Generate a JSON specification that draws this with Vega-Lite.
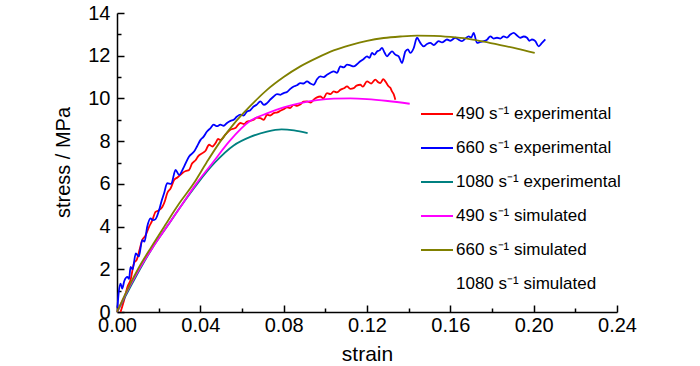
{
  "$schema": "https://vega.github.io/schema/vega-lite/v6.json",
  "autosize": "none",
  "padding": {"left": 117, "top": 13, "right": 83, "bottom": 55},
  "width": 500,
  "height": 299,
  "background": "white",
  "config": {"view": {"stroke": null}, "font": "Liberation Sans"},
  "data": {"values": [
    {"series": "490 s⁻¹ experimental", "strain": 0.0017, "stress": 0.0},
    {"series": "490 s⁻¹ experimental", "strain": 0.0034, "stress": 0.55},
    {"series": "490 s⁻¹ experimental", "strain": 0.005, "stress": 1.17},
    {"series": "490 s⁻¹ experimental", "strain": 0.0065, "stress": 1.5},
    {"series": "490 s⁻¹ experimental", "strain": 0.0082, "stress": 2.3},
    {"series": "490 s⁻¹ experimental", "strain": 0.0095, "stress": 2.45},
    {"series": "490 s⁻¹ experimental", "strain": 0.0108, "stress": 2.9},
    {"series": "490 s⁻¹ experimental", "strain": 0.0121, "stress": 3.37},
    {"series": "490 s⁻¹ experimental", "strain": 0.0135, "stress": 3.55},
    {"series": "490 s⁻¹ experimental", "strain": 0.0154, "stress": 3.99},
    {"series": "490 s⁻¹ experimental", "strain": 0.017, "stress": 4.3},
    {"series": "490 s⁻¹ experimental", "strain": 0.0185, "stress": 4.69},
    {"series": "490 s⁻¹ experimental", "strain": 0.02, "stress": 4.75},
    {"series": "490 s⁻¹ experimental", "strain": 0.0218, "stress": 4.93},
    {"series": "490 s⁻¹ experimental", "strain": 0.023, "stress": 5.2},
    {"series": "490 s⁻¹ experimental", "strain": 0.0241, "stress": 5.56},
    {"series": "490 s⁻¹ experimental", "strain": 0.0258, "stress": 5.8},
    {"series": "490 s⁻¹ experimental", "strain": 0.0274, "stress": 6.18},
    {"series": "490 s⁻¹ experimental", "strain": 0.029, "stress": 6.3},
    {"series": "490 s⁻¹ experimental", "strain": 0.0313, "stress": 6.5},
    {"series": "490 s⁻¹ experimental", "strain": 0.033, "stress": 6.6},
    {"series": "490 s⁻¹ experimental", "strain": 0.0346, "stress": 6.65},
    {"series": "490 s⁻¹ experimental", "strain": 0.036, "stress": 6.95},
    {"series": "490 s⁻¹ experimental", "strain": 0.0378, "stress": 7.12},
    {"series": "490 s⁻¹ experimental", "strain": 0.039, "stress": 7.3},
    {"series": "490 s⁻¹ experimental", "strain": 0.041, "stress": 7.44},
    {"series": "490 s⁻¹ experimental", "strain": 0.0425, "stress": 7.55},
    {"series": "490 s⁻¹ experimental", "strain": 0.0442, "stress": 7.83},
    {"series": "490 s⁻¹ experimental", "strain": 0.0458, "stress": 7.75},
    {"series": "490 s⁻¹ experimental", "strain": 0.0473, "stress": 7.91},
    {"series": "490 s⁻¹ experimental", "strain": 0.0485, "stress": 8.1},
    {"series": "490 s⁻¹ experimental", "strain": 0.0497, "stress": 8.06},
    {"series": "490 s⁻¹ experimental", "strain": 0.052, "stress": 8.3},
    {"series": "490 s⁻¹ experimental", "strain": 0.0544, "stress": 8.53},
    {"series": "490 s⁻¹ experimental", "strain": 0.0568, "stress": 8.61},
    {"series": "490 s⁻¹ experimental", "strain": 0.058, "stress": 8.75},
    {"series": "490 s⁻¹ experimental", "strain": 0.0592, "stress": 8.85},
    {"series": "490 s⁻¹ experimental", "strain": 0.061, "stress": 8.8},
    {"series": "490 s⁻¹ experimental", "strain": 0.0624, "stress": 8.92},
    {"series": "490 s⁻¹ experimental", "strain": 0.064, "stress": 8.95},
    {"series": "490 s⁻¹ experimental", "strain": 0.0656, "stress": 9.0},
    {"series": "490 s⁻¹ experimental", "strain": 0.067, "stress": 9.1},
    {"series": "490 s⁻¹ experimental", "strain": 0.0688, "stress": 9.08},
    {"series": "490 s⁻¹ experimental", "strain": 0.0705, "stress": 9.0},
    {"series": "490 s⁻¹ experimental", "strain": 0.072, "stress": 9.24},
    {"series": "490 s⁻¹ experimental", "strain": 0.0735, "stress": 9.2},
    {"series": "490 s⁻¹ experimental", "strain": 0.0752, "stress": 9.31},
    {"series": "490 s⁻¹ experimental", "strain": 0.077, "stress": 9.35},
    {"series": "490 s⁻¹ experimental", "strain": 0.0784, "stress": 9.42},
    {"series": "490 s⁻¹ experimental", "strain": 0.08, "stress": 9.5},
    {"series": "490 s⁻¹ experimental", "strain": 0.0816, "stress": 9.58},
    {"series": "490 s⁻¹ experimental", "strain": 0.083, "stress": 9.55},
    {"series": "490 s⁻¹ experimental", "strain": 0.0848, "stress": 9.7},
    {"series": "490 s⁻¹ experimental", "strain": 0.0865, "stress": 9.65},
    {"series": "490 s⁻¹ experimental", "strain": 0.088, "stress": 9.72},
    {"series": "490 s⁻¹ experimental", "strain": 0.0895, "stress": 9.85},
    {"series": "490 s⁻¹ experimental", "strain": 0.0912, "stress": 9.86},
    {"series": "490 s⁻¹ experimental", "strain": 0.093, "stress": 9.8},
    {"series": "490 s⁻¹ experimental", "strain": 0.0944, "stress": 9.94},
    {"series": "490 s⁻¹ experimental", "strain": 0.096, "stress": 10.05},
    {"series": "490 s⁻¹ experimental", "strain": 0.0976, "stress": 10.09},
    {"series": "490 s⁻¹ experimental", "strain": 0.099, "stress": 10.0},
    {"series": "490 s⁻¹ experimental", "strain": 0.1008, "stress": 10.25},
    {"series": "490 s⁻¹ experimental", "strain": 0.1025, "stress": 10.2},
    {"series": "490 s⁻¹ experimental", "strain": 0.104, "stress": 10.33},
    {"series": "490 s⁻¹ experimental", "strain": 0.1055, "stress": 10.28},
    {"series": "490 s⁻¹ experimental", "strain": 0.1072, "stress": 10.4},
    {"series": "490 s⁻¹ experimental", "strain": 0.109, "stress": 10.48},
    {"series": "490 s⁻¹ experimental", "strain": 0.1104, "stress": 10.56},
    {"series": "490 s⁻¹ experimental", "strain": 0.112, "stress": 10.45},
    {"series": "490 s⁻¹ experimental", "strain": 0.1136, "stress": 10.48},
    {"series": "490 s⁻¹ experimental", "strain": 0.115, "stress": 10.6},
    {"series": "490 s⁻¹ experimental", "strain": 0.1168, "stress": 10.64},
    {"series": "490 s⁻¹ experimental", "strain": 0.118, "stress": 10.55},
    {"series": "490 s⁻¹ experimental", "strain": 0.12, "stress": 10.8},
    {"series": "490 s⁻¹ experimental", "strain": 0.122, "stress": 10.7},
    {"series": "490 s⁻¹ experimental", "strain": 0.124, "stress": 10.88},
    {"series": "490 s⁻¹ experimental", "strain": 0.1255, "stress": 10.75},
    {"series": "490 s⁻¹ experimental", "strain": 0.1264, "stress": 10.72},
    {"series": "490 s⁻¹ experimental", "strain": 0.1278, "stress": 10.9},
    {"series": "490 s⁻¹ experimental", "strain": 0.1288, "stress": 10.8},
    {"series": "490 s⁻¹ experimental", "strain": 0.1304, "stress": 10.56},
    {"series": "490 s⁻¹ experimental", "strain": 0.1312, "stress": 10.5},
    {"series": "490 s⁻¹ experimental", "strain": 0.132, "stress": 10.33},
    {"series": "490 s⁻¹ experimental", "strain": 0.1328, "stress": 10.2},
    {"series": "490 s⁻¹ experimental", "strain": 0.1336, "stress": 9.94},
    {"series": "660 s⁻¹ experimental", "strain": 0.0002, "stress": 0.2},
    {"series": "660 s⁻¹ experimental", "strain": 0.0008, "stress": 0.9},
    {"series": "660 s⁻¹ experimental", "strain": 0.0017, "stress": 1.33},
    {"series": "660 s⁻¹ experimental", "strain": 0.0025, "stress": 1.1},
    {"series": "660 s⁻¹ experimental", "strain": 0.0035, "stress": 1.45},
    {"series": "660 s⁻¹ experimental", "strain": 0.005, "stress": 1.64},
    {"series": "660 s⁻¹ experimental", "strain": 0.0058, "stress": 1.55},
    {"series": "660 s⁻¹ experimental", "strain": 0.0065, "stress": 2.11},
    {"series": "660 s⁻¹ experimental", "strain": 0.0075, "stress": 2.0},
    {"series": "660 s⁻¹ experimental", "strain": 0.009, "stress": 2.74},
    {"series": "660 s⁻¹ experimental", "strain": 0.0105, "stress": 2.6},
    {"series": "660 s⁻¹ experimental", "strain": 0.0121, "stress": 3.37},
    {"series": "660 s⁻¹ experimental", "strain": 0.0132, "stress": 3.3},
    {"series": "660 s⁻¹ experimental", "strain": 0.0145, "stress": 3.99},
    {"series": "660 s⁻¹ experimental", "strain": 0.0161, "stress": 4.38},
    {"series": "660 s⁻¹ experimental", "strain": 0.0172, "stress": 4.3},
    {"series": "660 s⁻¹ experimental", "strain": 0.0185, "stress": 4.35},
    {"series": "660 s⁻¹ experimental", "strain": 0.0202, "stress": 4.77},
    {"series": "660 s⁻¹ experimental", "strain": 0.0214, "stress": 5.2},
    {"series": "660 s⁻¹ experimental", "strain": 0.0226, "stress": 5.56},
    {"series": "660 s⁻¹ experimental", "strain": 0.0241, "stress": 6.03},
    {"series": "660 s⁻¹ experimental", "strain": 0.026, "stress": 6.0},
    {"series": "660 s⁻¹ experimental", "strain": 0.0281, "stress": 6.65},
    {"series": "660 s⁻¹ experimental", "strain": 0.0298, "stress": 6.42},
    {"series": "660 s⁻¹ experimental", "strain": 0.0322, "stress": 6.81},
    {"series": "660 s⁻¹ experimental", "strain": 0.0346, "stress": 7.28},
    {"series": "660 s⁻¹ experimental", "strain": 0.037, "stress": 7.51},
    {"series": "660 s⁻¹ experimental", "strain": 0.0384, "stress": 7.75},
    {"series": "660 s⁻¹ experimental", "strain": 0.0401, "stress": 8.06},
    {"series": "660 s⁻¹ experimental", "strain": 0.0415, "stress": 8.2},
    {"series": "660 s⁻¹ experimental", "strain": 0.0432, "stress": 8.45},
    {"series": "660 s⁻¹ experimental", "strain": 0.0448, "stress": 8.6},
    {"series": "660 s⁻¹ experimental", "strain": 0.0464, "stress": 8.77},
    {"series": "660 s⁻¹ experimental", "strain": 0.048, "stress": 8.7},
    {"series": "660 s⁻¹ experimental", "strain": 0.0496, "stress": 8.77},
    {"series": "660 s⁻¹ experimental", "strain": 0.0512, "stress": 8.72},
    {"series": "660 s⁻¹ experimental", "strain": 0.0528, "stress": 8.85},
    {"series": "660 s⁻¹ experimental", "strain": 0.0545, "stress": 8.95},
    {"series": "660 s⁻¹ experimental", "strain": 0.056, "stress": 9.0},
    {"series": "660 s⁻¹ experimental", "strain": 0.0576, "stress": 9.15},
    {"series": "660 s⁻¹ experimental", "strain": 0.0592, "stress": 9.24},
    {"series": "660 s⁻¹ experimental", "strain": 0.0608, "stress": 9.2},
    {"series": "660 s⁻¹ experimental", "strain": 0.0624, "stress": 9.39},
    {"series": "660 s⁻¹ experimental", "strain": 0.064, "stress": 9.45},
    {"series": "660 s⁻¹ experimental", "strain": 0.0656, "stress": 9.62},
    {"series": "660 s⁻¹ experimental", "strain": 0.067, "stress": 9.7},
    {"series": "660 s⁻¹ experimental", "strain": 0.0688, "stress": 9.86},
    {"series": "660 s⁻¹ experimental", "strain": 0.0705, "stress": 9.7},
    {"series": "660 s⁻¹ experimental", "strain": 0.072, "stress": 9.78},
    {"series": "660 s⁻¹ experimental", "strain": 0.0736, "stress": 9.95},
    {"series": "660 s⁻¹ experimental", "strain": 0.0752, "stress": 10.09},
    {"series": "660 s⁻¹ experimental", "strain": 0.0768, "stress": 10.2},
    {"series": "660 s⁻¹ experimental", "strain": 0.0784, "stress": 10.17},
    {"series": "660 s⁻¹ experimental", "strain": 0.08, "stress": 10.25},
    {"series": "660 s⁻¹ experimental", "strain": 0.0816, "stress": 10.3},
    {"series": "660 s⁻¹ experimental", "strain": 0.0832, "stress": 10.45},
    {"series": "660 s⁻¹ experimental", "strain": 0.0848, "stress": 10.56},
    {"series": "660 s⁻¹ experimental", "strain": 0.0864, "stress": 10.62},
    {"series": "660 s⁻¹ experimental", "strain": 0.088, "stress": 10.72},
    {"series": "660 s⁻¹ experimental", "strain": 0.0896, "stress": 10.7},
    {"series": "660 s⁻¹ experimental", "strain": 0.0912, "stress": 10.8},
    {"series": "660 s⁻¹ experimental", "strain": 0.0928, "stress": 10.7},
    {"series": "660 s⁻¹ experimental", "strain": 0.0944, "stress": 10.64},
    {"series": "660 s⁻¹ experimental", "strain": 0.096, "stress": 10.9},
    {"series": "660 s⁻¹ experimental", "strain": 0.0976, "stress": 11.03},
    {"series": "660 s⁻¹ experimental", "strain": 0.0992, "stress": 11.0},
    {"series": "660 s⁻¹ experimental", "strain": 0.1008, "stress": 11.11},
    {"series": "660 s⁻¹ experimental", "strain": 0.1024, "stress": 11.2},
    {"series": "660 s⁻¹ experimental", "strain": 0.104, "stress": 11.27},
    {"series": "660 s⁻¹ experimental", "strain": 0.1056, "stress": 11.2},
    {"series": "660 s⁻¹ experimental", "strain": 0.1072, "stress": 11.5},
    {"series": "660 s⁻¹ experimental", "strain": 0.1088, "stress": 11.45},
    {"series": "660 s⁻¹ experimental", "strain": 0.1104, "stress": 11.58},
    {"series": "660 s⁻¹ experimental", "strain": 0.112, "stress": 11.55},
    {"series": "660 s⁻¹ experimental", "strain": 0.1136, "stress": 11.5},
    {"series": "660 s⁻¹ experimental", "strain": 0.1152, "stress": 11.6},
    {"series": "660 s⁻¹ experimental", "strain": 0.1168, "stress": 11.74},
    {"series": "660 s⁻¹ experimental", "strain": 0.1184, "stress": 11.85},
    {"series": "660 s⁻¹ experimental", "strain": 0.12, "stress": 11.97},
    {"series": "660 s⁻¹ experimental", "strain": 0.1212, "stress": 11.9},
    {"series": "660 s⁻¹ experimental", "strain": 0.1224, "stress": 12.13},
    {"series": "660 s⁻¹ experimental", "strain": 0.1236, "stress": 12.05},
    {"series": "660 s⁻¹ experimental", "strain": 0.1248, "stress": 12.2},
    {"series": "660 s⁻¹ experimental", "strain": 0.126, "stress": 12.25},
    {"series": "660 s⁻¹ experimental", "strain": 0.1272, "stress": 12.37},
    {"series": "660 s⁻¹ experimental", "strain": 0.1284, "stress": 12.15},
    {"series": "660 s⁻¹ experimental", "strain": 0.1296, "stress": 11.97},
    {"series": "660 s⁻¹ experimental", "strain": 0.1308, "stress": 12.1},
    {"series": "660 s⁻¹ experimental", "strain": 0.132, "stress": 12.2},
    {"series": "660 s⁻¹ experimental", "strain": 0.1336, "stress": 12.05},
    {"series": "660 s⁻¹ experimental", "strain": 0.1352, "stress": 11.97},
    {"series": "660 s⁻¹ experimental", "strain": 0.1368, "stress": 11.66},
    {"series": "660 s⁻¹ experimental", "strain": 0.1384, "stress": 12.2},
    {"series": "660 s⁻¹ experimental", "strain": 0.1396, "stress": 12.3},
    {"series": "660 s⁻¹ experimental", "strain": 0.1408, "stress": 12.13},
    {"series": "660 s⁻¹ experimental", "strain": 0.1424, "stress": 12.35},
    {"series": "660 s⁻¹ experimental", "strain": 0.144, "stress": 12.84},
    {"series": "660 s⁻¹ experimental", "strain": 0.1456, "stress": 12.6},
    {"series": "660 s⁻¹ experimental", "strain": 0.1472, "stress": 12.44},
    {"series": "660 s⁻¹ experimental", "strain": 0.1488, "stress": 12.55},
    {"series": "660 s⁻¹ experimental", "strain": 0.1504, "stress": 12.6},
    {"series": "660 s⁻¹ experimental", "strain": 0.152, "stress": 12.5},
    {"series": "660 s⁻¹ experimental", "strain": 0.1544, "stress": 12.68},
    {"series": "660 s⁻¹ experimental", "strain": 0.156, "stress": 12.62},
    {"series": "660 s⁻¹ experimental", "strain": 0.1584, "stress": 12.76},
    {"series": "660 s⁻¹ experimental", "strain": 0.16, "stress": 12.7},
    {"series": "660 s⁻¹ experimental", "strain": 0.1624, "stress": 12.84},
    {"series": "660 s⁻¹ experimental", "strain": 0.164, "stress": 12.75},
    {"series": "660 s⁻¹ experimental", "strain": 0.1656, "stress": 12.68},
    {"series": "660 s⁻¹ experimental", "strain": 0.1672, "stress": 12.8},
    {"series": "660 s⁻¹ experimental", "strain": 0.1688, "stress": 12.91},
    {"series": "660 s⁻¹ experimental", "strain": 0.17, "stress": 12.85},
    {"series": "660 s⁻¹ experimental", "strain": 0.1712, "stress": 13.07},
    {"series": "660 s⁻¹ experimental", "strain": 0.1728, "stress": 12.6},
    {"series": "660 s⁻¹ experimental", "strain": 0.1744, "stress": 12.65},
    {"series": "660 s⁻¹ experimental", "strain": 0.176, "stress": 12.68},
    {"series": "660 s⁻¹ experimental", "strain": 0.1776, "stress": 12.75},
    {"series": "660 s⁻¹ experimental", "strain": 0.1792, "stress": 12.91},
    {"series": "660 s⁻¹ experimental", "strain": 0.1808, "stress": 12.8},
    {"series": "660 s⁻¹ experimental", "strain": 0.1824, "stress": 12.84},
    {"series": "660 s⁻¹ experimental", "strain": 0.184, "stress": 12.8},
    {"series": "660 s⁻¹ experimental", "strain": 0.1856, "stress": 12.91},
    {"series": "660 s⁻¹ experimental", "strain": 0.1872, "stress": 12.85},
    {"series": "660 s⁻¹ experimental", "strain": 0.1888, "stress": 12.99},
    {"series": "660 s⁻¹ experimental", "strain": 0.1904, "stress": 13.07},
    {"series": "660 s⁻¹ experimental", "strain": 0.192, "stress": 12.95},
    {"series": "660 s⁻¹ experimental", "strain": 0.1936, "stress": 12.84},
    {"series": "660 s⁻¹ experimental", "strain": 0.1952, "stress": 12.9},
    {"series": "660 s⁻¹ experimental", "strain": 0.1968, "stress": 12.84},
    {"series": "660 s⁻¹ experimental", "strain": 0.198, "stress": 12.7},
    {"series": "660 s⁻¹ experimental", "strain": 0.1992, "stress": 12.76},
    {"series": "660 s⁻¹ experimental", "strain": 0.2008, "stress": 12.68},
    {"series": "660 s⁻¹ experimental", "strain": 0.2024, "stress": 12.44},
    {"series": "660 s⁻¹ experimental", "strain": 0.204, "stress": 12.6},
    {"series": "660 s⁻¹ experimental", "strain": 0.2056, "stress": 12.76},
    {"series": "1080 s⁻¹ experimental", "strain": 0.0, "stress": 0.0},
    {"series": "1080 s⁻¹ experimental", "strain": 0.0055, "stress": 1.0},
    {"series": "1080 s⁻¹ experimental", "strain": 0.011, "stress": 2.0},
    {"series": "1080 s⁻¹ experimental", "strain": 0.017, "stress": 3.0},
    {"series": "1080 s⁻¹ experimental", "strain": 0.024, "stress": 4.0},
    {"series": "1080 s⁻¹ experimental", "strain": 0.031, "stress": 5.0},
    {"series": "1080 s⁻¹ experimental", "strain": 0.0385, "stress": 6.0},
    {"series": "1080 s⁻¹ experimental", "strain": 0.047, "stress": 7.0},
    {"series": "1080 s⁻¹ experimental", "strain": 0.056, "stress": 7.8},
    {"series": "1080 s⁻¹ experimental", "strain": 0.064, "stress": 8.2},
    {"series": "1080 s⁻¹ experimental", "strain": 0.072, "stress": 8.45},
    {"series": "1080 s⁻¹ experimental", "strain": 0.079, "stress": 8.55},
    {"series": "1080 s⁻¹ experimental", "strain": 0.085, "stress": 8.5},
    {"series": "1080 s⁻¹ experimental", "strain": 0.0915, "stress": 8.37},
    {"series": "490 s⁻¹ simulated", "strain": 0.0, "stress": 0.0},
    {"series": "490 s⁻¹ simulated", "strain": 0.005, "stress": 1.0},
    {"series": "490 s⁻¹ simulated", "strain": 0.0106, "stress": 2.0},
    {"series": "490 s⁻¹ simulated", "strain": 0.017, "stress": 3.0},
    {"series": "490 s⁻¹ simulated", "strain": 0.024, "stress": 4.0},
    {"series": "490 s⁻¹ simulated", "strain": 0.031, "stress": 5.0},
    {"series": "490 s⁻¹ simulated", "strain": 0.038, "stress": 6.0},
    {"series": "490 s⁻¹ simulated", "strain": 0.046, "stress": 7.0},
    {"series": "490 s⁻¹ simulated", "strain": 0.054, "stress": 8.0},
    {"series": "490 s⁻¹ simulated", "strain": 0.064, "stress": 8.95},
    {"series": "490 s⁻¹ simulated", "strain": 0.072, "stress": 9.3},
    {"series": "490 s⁻¹ simulated", "strain": 0.08, "stress": 9.58},
    {"series": "490 s⁻¹ simulated", "strain": 0.088, "stress": 9.78},
    {"series": "490 s⁻¹ simulated", "strain": 0.096, "stress": 9.92},
    {"series": "490 s⁻¹ simulated", "strain": 0.104, "stress": 9.99},
    {"series": "490 s⁻¹ simulated", "strain": 0.112, "stress": 10.0},
    {"series": "490 s⁻¹ simulated", "strain": 0.12, "stress": 9.97},
    {"series": "490 s⁻¹ simulated", "strain": 0.13, "stress": 9.88},
    {"series": "490 s⁻¹ simulated", "strain": 0.1405, "stress": 9.75},
    {"series": "660 s⁻¹ simulated", "strain": 0.0, "stress": 0.0},
    {"series": "660 s⁻¹ simulated", "strain": 0.005, "stress": 1.05},
    {"series": "660 s⁻¹ simulated", "strain": 0.0103, "stress": 2.05},
    {"series": "660 s⁻¹ simulated", "strain": 0.0165, "stress": 3.05},
    {"series": "660 s⁻¹ simulated", "strain": 0.023, "stress": 4.05},
    {"series": "660 s⁻¹ simulated", "strain": 0.03, "stress": 5.1},
    {"series": "660 s⁻¹ simulated", "strain": 0.0367, "stress": 6.0},
    {"series": "660 s⁻¹ simulated", "strain": 0.043, "stress": 7.0},
    {"series": "660 s⁻¹ simulated", "strain": 0.0497, "stress": 8.0},
    {"series": "660 s⁻¹ simulated", "strain": 0.056, "stress": 8.8},
    {"series": "660 s⁻¹ simulated", "strain": 0.064, "stress": 9.65},
    {"series": "660 s⁻¹ simulated", "strain": 0.072, "stress": 10.4},
    {"series": "660 s⁻¹ simulated", "strain": 0.08, "stress": 11.0},
    {"series": "660 s⁻¹ simulated", "strain": 0.088, "stress": 11.5},
    {"series": "660 s⁻¹ simulated", "strain": 0.096, "stress": 11.9},
    {"series": "660 s⁻¹ simulated", "strain": 0.104, "stress": 12.25},
    {"series": "660 s⁻¹ simulated", "strain": 0.112, "stress": 12.5},
    {"series": "660 s⁻¹ simulated", "strain": 0.12, "stress": 12.7},
    {"series": "660 s⁻¹ simulated", "strain": 0.128, "stress": 12.83},
    {"series": "660 s⁻¹ simulated", "strain": 0.136, "stress": 12.9},
    {"series": "660 s⁻¹ simulated", "strain": 0.144, "stress": 12.94},
    {"series": "660 s⁻¹ simulated", "strain": 0.152, "stress": 12.93},
    {"series": "660 s⁻¹ simulated", "strain": 0.16, "stress": 12.88},
    {"series": "660 s⁻¹ simulated", "strain": 0.168, "stress": 12.8},
    {"series": "660 s⁻¹ simulated", "strain": 0.176, "stress": 12.66},
    {"series": "660 s⁻¹ simulated", "strain": 0.184, "stress": 12.5},
    {"series": "660 s⁻¹ simulated", "strain": 0.192, "stress": 12.33},
    {"series": "660 s⁻¹ simulated", "strain": 0.2005, "stress": 12.13}
  ]},
  "mark": {"type": "line", "strokeWidth": 1.8, "interpolate": "monotone"},
  "encoding": {
    "x": {
      "field": "strain", "type": "quantitative",
      "scale": {"domain": [0, 0.24], "nice": false, "zero": false},
      "axis": {
        "title": "strain",
        "values": [0, 0.02, 0.04, 0.06, 0.08, 0.1, 0.12, 0.14, 0.16, 0.18, 0.2, 0.22, 0.24],
        "format": ".2f",
        "labelExpr": "round(datum.value*50) % 2 == 0 ? datum.label : ''",
        "grid": false,
        "domainColor": "black", "domainWidth": 1.5,
        "tickColor": "black", "tickWidth": 1.5,
        "tickSize": {"condition": {"test": "round(datum.value*50) % 2 == 1", "value": -4}, "value": -7},
        "labelPadding": 10,
        "labelFontSize": 20, "labelColor": "black", "labelFont": "Liberation Sans",
        "labelFlush": false, "labelOverlap": false,
        "titleFontSize": 21, "titleFontWeight": "normal", "titleColor": "black", "titleFont": "Liberation Sans",
        "titleX": 250, "titleY": 42, "titleBaseline": "middle", "titleAlign": "center"
      }
    },
    "y": {
      "field": "stress", "type": "quantitative",
      "scale": {"domain": [0, 14], "nice": false},
      "axis": {
        "title": "stress / MPa",
        "values": [0, 1, 2, 3, 4, 5, 6, 7, 8, 9, 10, 11, 12, 13, 14],
        "labelExpr": "round(datum.value) % 2 == 0 ? datum.label : ''",
        "grid": false,
        "domainColor": "black", "domainWidth": 1.5,
        "tickColor": "black", "tickWidth": 1.5,
        "tickSize": {"condition": {"test": "round(datum.value) % 2 == 1", "value": -4}, "value": -7},
        "labelPadding": 14,
        "labelFontSize": 20, "labelColor": "black", "labelFont": "Liberation Sans",
        "labelFlush": false, "labelOverlap": false,
        "titleFontSize": 20, "titleFontWeight": "normal", "titleColor": "black", "titleFont": "Liberation Sans",
        "titleX": -54, "titleY": 149, "titleAngle": -90, "titleBaseline": "middle", "titleAlign": "center"
      }
    },
    "color": {
      "field": "series", "type": "nominal",
      "scale": {
        "domain": ["490 s⁻¹ experimental", "660 s⁻¹ experimental", "1080 s⁻¹ experimental", "490 s⁻¹ simulated", "660 s⁻¹ simulated", "1080 s⁻¹ simulated"],
        "range": ["#ff0000", "#0000ff", "#008080", "#ff00ff", "#808000", "#ffffff"]
      },
      "legend": {
        "title": null,
        "orient": "none",
        "legendX": 303,
        "legendY": 84,
        "padding": 0,
        "symbolType": "stroke",
        "symbolSize": 1024,
        "symbolStrokeWidth": 2,
        "labelFontSize": 17,
        "labelFont": "Liberation Sans",
        "labelColor": "black",
        "labelLimit": 300,
        "labelOffset": 2,
        "rowPadding": 9
      }
    }
  }
}
